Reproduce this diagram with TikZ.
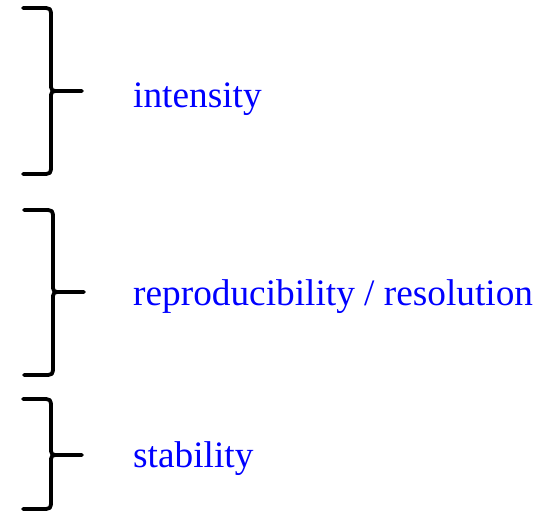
\documentclass[tikz,border=0pt]{standalone}
\usepackage{fontspec}
\setmainfont{Liberation Serif}
\tikzset{
  bracestroke/.style={draw=black, line width=3.8pt, line cap=round, line join=round},
  label/.style={text=blue, font=\fontsize{37.3}{44}\selectfont, inner sep=0pt, anchor=base west}
}
% right-hand curly brace: #1 left end x, #2 spine x, #3 tip x, #4 top y, #5 middle y, #6 bottom y
\newcommand\rightbrace[6]{%
  \draw[bracestroke]
    (#1,-#4) -- (#2-10,-#4) .. controls (#2,-#4) .. (#2,-#4-9)
    -- (#2,-#5+8) .. controls (#2,-#5) .. (#2+9,-#5) -- (#3,-#5);
  \draw[bracestroke]
    (#2+9,-#5) .. controls (#2,-#5) .. (#2,-#5-8)
    -- (#2,-#6+9) .. controls (#2,-#6) .. (#2-10,-#6) -- (#1,-#6);
}
\begin{document}
\begin{tikzpicture}[x=1pt,y=1pt]
  \useasboundingbox (0,0) rectangle (544,-512);
  \rightbrace{23}{51}{82}{8}{91}{174}
  \rightbrace{24}{53}{84}{210}{292}{375}
  \rightbrace{23}{51}{82}{399}{455}{509}
  \node[label] (intensity) at (133,-107) {intensity};
  \node[label] (reproducibility) at (133,-305) {reproducibility / resolution};
  \node[label] (stability) at (133,-467) {stability};
\end{tikzpicture}
\end{document}
